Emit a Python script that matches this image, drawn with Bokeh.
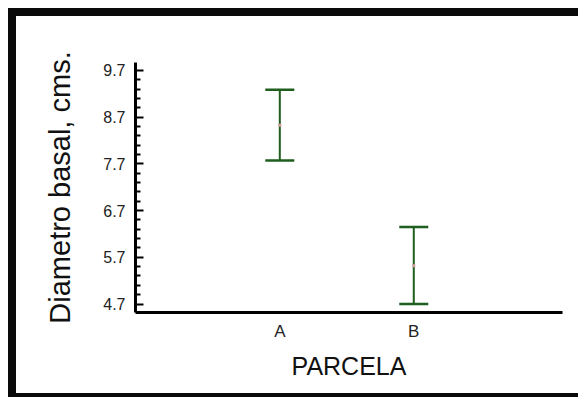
from bokeh.plotting import figure
from bokeh.models import ColumnDataSource, Whisker, TeeHead, FixedTicker, Range1d
from bokeh.embed import file_html
from bokeh.resources import INLINE

categories = ["A", "B"]
positions = [1, 2]
means = [8.53, 5.52]
lower = [7.77, 4.70]
upper = [9.29, 6.35]
y_major = [4.7, 5.7, 6.7, 7.7, 8.7, 9.7]
y_minor = [4.9, 5.1, 5.3, 5.5, 5.9, 6.1, 6.3, 6.5, 6.9, 7.1, 7.3, 7.5,
           7.9, 8.1, 8.3, 8.5, 8.9, 9.1, 9.3, 9.5]

W, H = 570, 389
p = figure(width=W, height=H, output_backend="svg", toolbar_location=None,
           x_range=Range1d(-0.077, 3.11), y_range=Range1d(4.518, 9.871),
           min_border_left=119, min_border_top=46, min_border_right=24,
           min_border_bottom=93)
p.margin = (8, 0, 0, 8)
p.styles = {"border-top": "8px solid #0a0a0a",
            "border-left": "8px solid #0a0a0a",
            "border-bottom": "4px solid #0a0a0a"}
p.xgrid.visible = False
p.ygrid.visible = False
p.outline_line_color = None
p.background_fill_color = "white"
p.border_fill_color = "white"

src = ColumnDataSource(dict(x=positions, mean=means, lower=lower, upper=upper))
green = "#1e5e1e"
w = Whisker(source=src, base="x", lower="lower", upper="upper",
            line_color=green, line_width=2,
            upper_head=TeeHead(size=29, line_color=green, line_width=2.5),
            lower_head=TeeHead(size=29, line_color=green, line_width=2.5))
p.add_layout(w)
p.scatter(x="x", y="mean", source=src, marker="square", size=3,
          fill_color="#d0a0a0", line_color=None)

# y axis
ya = p.yaxis[0]
ya.ticker = FixedTicker(ticks=y_major, minor_ticks=y_minor)
ya.axis_line_width = 3
ya.axis_line_color = "black"
ya.major_tick_in = 8
ya.major_tick_out = 0
ya.minor_tick_in = 5
ya.minor_tick_out = 0
ya.major_tick_line_width = 2
ya.minor_tick_line_width = 2
ya.major_label_standoff = 10
ya.major_label_text_font = "Liberation Sans"
ya.major_label_text_font_size = "16px"
ya.major_label_text_color = "#222222"
ya.axis_label = "Diametro basal, cms."
ya.axis_label_text_font = "Liberation Sans"
ya.axis_label_text_font_size = "29px"
ya.axis_label_text_font_style = "normal"
ya.axis_label_text_color = "#111111"
ya.axis_label_standoff = 24

# x axis
xa = p.xaxis[0]
xa.ticker = FixedTicker(ticks=positions, minor_ticks=[])
xa.major_label_overrides = {1: categories[0], 2: categories[1]}
xa.axis_line_width = 3
xa.axis_line_color = "black"
xa.major_tick_line_color = None
xa.minor_tick_line_color = None
xa.major_label_standoff = 3
xa.major_label_text_font = "Liberation Sans"
xa.major_label_text_font_size = "17px"
xa.major_label_text_color = "#222222"
xa.axis_label = "PARCELA"
xa.axis_label_text_font = "Liberation Sans"
xa.axis_label_text_font_size = "25px"
xa.axis_label_text_font_style = "normal"
xa.axis_label_text_color = "#111111"
xa.axis_label_standoff = 8

open("out.html", "w").write(file_html(p, INLINE))
